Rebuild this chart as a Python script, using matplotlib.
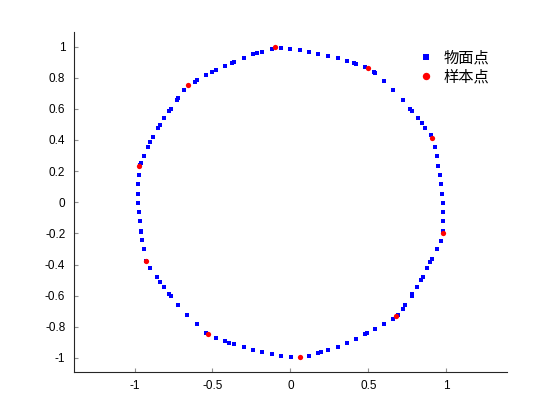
import matplotlib
matplotlib.use('Agg')
import matplotlib.pyplot as plt
import numpy as np

# blue points (物面点), going round counter-clockwise from the top
surf_x = [0.00, -0.060, -0.120, -0.180, -0.214, -0.239, -0.299, -0.359, -0.373, -0.418,
          -0.479, -0.502, -0.539, -0.598, -0.611, -0.681, -0.718, -0.729, -0.769, -0.778,
          -0.810, -0.838, -0.849, -0.881, -0.898, -0.913, -0.941, -0.958, -0.967, -0.973,
          -0.975, -0.975, -0.975, -0.970, -0.967, -0.960, -0.956, -0.950, -0.941, -0.926,
          -0.898, -0.858, -0.838, -0.813, -0.778, -0.766, -0.719, -0.661, -0.601, -0.539,
          -0.479, -0.419, -0.392, -0.360, -0.300, -0.240, -0.180, -0.120, -0.060, 0.001,
          0.122, 0.180, 0.199, 0.240, 0.302, 0.361, 0.419, 0.481, 0.494, 0.541,
          0.601, 0.661, 0.691, 0.719, 0.736, 0.777, 0.781, 0.813, 0.839, 0.849,
          0.879, 0.898, 0.911, 0.937, 0.963, 0.980, 0.980, 0.980, 0.978, 0.974,
          0.968, 0.959, 0.949, 0.938, 0.925, 0.901, 0.865, 0.841, 0.820, 0.779,
          0.770, 0.721, 0.661, 0.601, 0.541, 0.535, 0.480, 0.422, 0.407, 0.362,
          0.302, 0.242, 0.180, 0.122, 0.062]
surf_y = [0.985, 0.990, 0.985, 0.968, 0.958, 0.949, 0.927, 0.904, 0.897, 0.878,
          0.850, 0.836, 0.818, 0.786, 0.775, 0.718, 0.671, 0.656, 0.598, 0.587,
          0.538, 0.493, 0.476, 0.418, 0.386, 0.358, 0.297, 0.255, 0.239, 0.177,
          0.117, 0.056, -0.003, -0.063, -0.123, -0.183, -0.194, -0.243, -0.303, -0.375,
          -0.422, -0.480, -0.510, -0.542, -0.587, -0.602, -0.660, -0.724, -0.784, -0.840,
          -0.870, -0.891, -0.902, -0.913, -0.932, -0.947, -0.961, -0.974, -0.985, -0.992,
          -0.985, -0.970, -0.961, -0.949, -0.927, -0.902, -0.876, -0.849, -0.840, -0.816,
          -0.782, -0.748, -0.722, -0.684, -0.662, -0.600, -0.592, -0.542, -0.499, -0.483,
          -0.422, -0.386, -0.366, -0.303, -0.247, -0.183, -0.123, -0.063, -0.003, 0.056,
          0.117, 0.177, 0.236, 0.297, 0.358, 0.429, 0.476, 0.510, 0.538, 0.583,
          0.596, 0.656, 0.718, 0.778, 0.829, 0.836, 0.870, 0.889, 0.897, 0.910,
          0.927, 0.942, 0.955, 0.966, 0.977]

# red points (样本点)
sample_x = [-0.098, -0.660, -0.973, -0.926, -0.531, 0.062, 0.678, 0.976, 0.908, 0.499]
sample_y = [0.996, 0.752, 0.230, -0.380, -0.849, -0.996, -0.730, -0.196, 0.412, 0.865]

legend_labels = ['物面点', '样本点']
ticks_x = [-1, -0.5, 0, 0.5, 1]
ticks_y = [-1, -0.8, -0.6, -0.4, -0.2, 0, 0.2, 0.4, 0.6, 0.8, 1]

fig = plt.figure(figsize=(5.6, 4.2), dpi=100)
ax = fig.add_axes([0.1316, 0.114, 0.774, 0.810])

ax.plot(surf_x, surf_y, 's', color='blue', markersize=3.2, markeredgewidth=0,
        label=legend_labels[0])
ax.plot(sample_x, sample_y, 'o', color='red', markersize=3.8, markeredgewidth=0,
        label=legend_labels[1])

ax.set_xlim(-1.39, 1.39)
ax.set_ylim(-1.091, 1.094)
ax.set_xticks(ticks_x)
ax.set_xticklabels(['-1', '-0.5', '0', '0.5', '1'])
ax.set_yticks(ticks_y)
ax.set_yticklabels(['-1', '-0.8', '-0.6', '-0.4', '-0.2', '0', '0.2', '0.4', '0.6', '0.8', '1'])

for s in ['top', 'right']:
    ax.spines[s].set_visible(False)
for s in ['left', 'bottom']:
    ax.spines[s].set_color('#262626')
    ax.spines[s].set_linewidth(0.8)
ax.tick_params(direction='in', length=3, width=0.8, color='#909090',
               labelsize=8.5, labelcolor='black', pad=6)
for lab in ax.get_xticklabels() + ax.get_yticklabels():
    lab.set_family(['Liberation Sans', 'DejaVu Sans'])

leg = ax.legend(loc='upper right', bbox_to_anchor=(0.99, 0.99), frameon=False,
                prop={'family': ['Noto Sans CJK SC', 'DejaVu Sans'], 'size': 11},
                handletextpad=0.6, handlelength=1.0, labelspacing=0.15,
                markerscale=1.4)

fig.savefig('out.png', dpi=100)
